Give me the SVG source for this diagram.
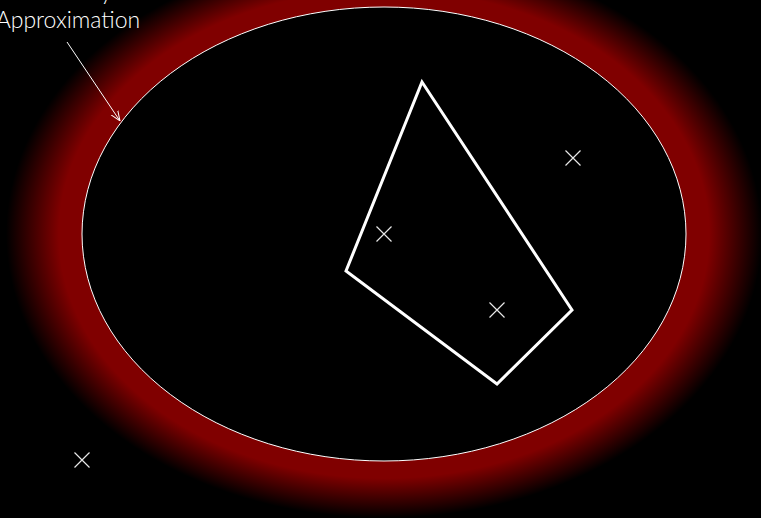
<svg xmlns="http://www.w3.org/2000/svg" width="761" height="518" viewBox="0 0 761 518">
<style>
.lbl{font-family:Lato,"Liberation Sans",sans-serif;font-size:23px;fill:#ffffff;font-weight:300}
.cross{stroke:#e8e8e8;stroke-width:1.2;fill:none}
.conn{stroke:#ffffff;stroke-width:1;fill:none}
</style>
<defs>
<radialGradient id="glow" cx="0.5" cy="0.5" r="0.5">
<stop offset="0.78" stop-color="#800000"/>
<stop offset="0.86" stop-color="#800000"/>
<stop offset="0.93" stop-color="#400000"/>
<stop offset="1" stop-color="#000000"/>
</radialGradient>
<marker id="arr" viewBox="0 0 10 10" refX="10" refY="5" markerWidth="10" markerHeight="10" markerUnits="userSpaceOnUse" orient="auto">
<path d="M0,1 L10,5 L0,9" stroke="#ffffff" stroke-width="1" fill="none"/>
</marker>
</defs>
<rect width="761" height="518" fill="#000000"/>
<g id="glow-region">
<ellipse cx="384" cy="234" rx="378" ry="284" fill="url(#glow)"/>
</g>
<g id="ellipse">
<ellipse cx="384" cy="234" rx="302" ry="227" fill="#000000" stroke="#ffffff" stroke-width="1"/>
</g>
<g id="polygon">
<polygon points="422,82 572,310 497,384 346,271" fill="none" stroke="#ffffff" stroke-width="3" stroke-linejoin="miter"/>
</g>
<g id="points">
<path class="cross" d="M376.5,226.5 L391.5,241.5 M391.5,226.5 L376.5,241.5"/>
<path class="cross" d="M565.5,150.5 L580.5,165.5 M580.5,150.5 L565.5,165.5"/>
<path class="cross" d="M489.5,302.5 L504.5,317.5 M504.5,302.5 L489.5,317.5"/>
<path class="cross" d="M74.5,452.5 L89.5,467.5 M89.5,452.5 L74.5,467.5"/>
</g>
<g id="label">
<text class="lbl" x="64" y="0" text-anchor="middle">Boundary</text>
<text class="lbl" x="68" y="28" text-anchor="middle">Approximation</text>
</g>
<g id="connectors">
<line class="conn" x1="67" y1="42" x2="120" y2="121" marker-end="url(#arr)"/>
</g>
</svg>
